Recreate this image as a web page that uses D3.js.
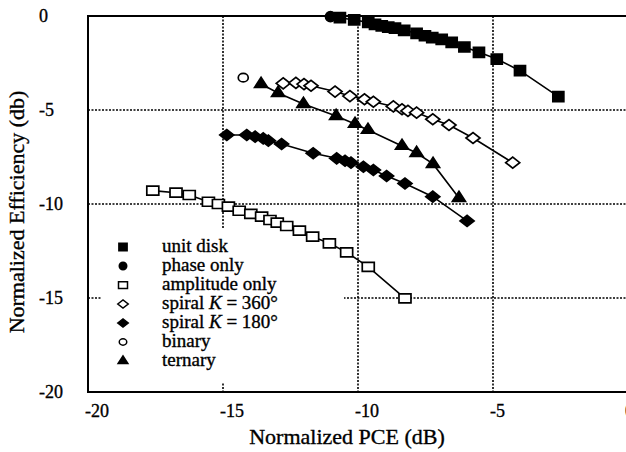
<!doctype html>
<html>
<head>
<meta charset="UTF-8">
<title>PCE vs efficiency</title>
<script src="https://d3js.org/d3.v7.min.js"></script>
<style>
  body { margin: 0; background: #fff; }
  text { font-family: "Liberation Serif", "Times New Roman", serif; fill: #000; stroke: #000; stroke-width: 0.35; }
</style>
</head>
<body>
<script>
// values (x = normalized PCE dB, y = normalized efficiency dB)
var unitDiskX = [-10.67, -10.14, -9.62, -9.37, -9.12, -8.88, -8.63, -8.29, -7.83, -7.52, -7.25, -6.90, -6.53, -6.06, -5.52, -4.86, -4.00, -2.58];
var unitDiskY = [-0.09, -0.21, -0.34, -0.45, -0.52, -0.59, -0.65, -0.76, -0.92, -1.05, -1.15, -1.24, -1.40, -1.65, -1.93, -2.29, -2.91, -4.29];

var phaseX = [-11.02];
var phaseY = [-0.03];

var amplitudeX = [-17.60, -16.74, -16.25, -15.54, -15.17, -14.80, -14.40, -13.97, -13.57, -13.26, -12.99, -12.64, -12.17, -11.68, -11.06, -10.42, -9.62, -8.26];
var amplitudeY = [-9.29, -9.40, -9.52, -9.88, -10.00, -10.14, -10.36, -10.53, -10.67, -10.85, -10.99, -11.17, -11.42, -11.74, -12.09, -12.57, -13.34, -15.02];

var spiral360X = [-12.77, -12.30, -12.00, -11.74, -10.85, -10.30, -9.76, -9.43, -8.69, -8.37, -8.15, -7.83, -7.23, -6.63, -5.74, -4.27];
var spiral360Y = [-3.58, -3.56, -3.62, -3.71, -4.02, -4.26, -4.43, -4.56, -4.81, -4.96, -5.05, -5.14, -5.49, -5.80, -6.49, -7.80];

var spiral180X = [-14.86, -14.12, -13.81, -13.51, -13.32, -12.83, -11.66, -10.79, -10.48, -10.26, -9.80, -9.43, -8.94, -8.26, -7.23, -5.96];
var spiral180Y = [-6.33, -6.33, -6.42, -6.51, -6.63, -6.81, -7.30, -7.57, -7.70, -7.80, -8.02, -8.19, -8.51, -8.91, -9.61, -10.90];

var binaryX = [-14.25];
var binaryY = [-3.28];

var ternaryX = [-13.59, -12.96, -12.02, -10.81, -10.11, -9.63, -8.37, -7.83, -7.22, -6.26];
var ternaryY = [-3.62, -4.10, -4.68, -5.32, -5.74, -6.06, -6.91, -7.29, -7.87, -9.68];

var xTicks = [-20, -15, -10, -5, 0];
var yTicks = [0, -5, -10, -15, -20];

var series = [
  {name: "unit disk",      x: unitDiskX,  y: unitDiskY,  shape: "square",   fill: true},
  {name: "phase only",     x: phaseX,     y: phaseY,     shape: "circle",   fill: true},
  {name: "amplitude only", x: amplitudeX, y: amplitudeY, shape: "rect",     fill: false},
  {name: "spiral360",      x: spiral360X, y: spiral360Y, shape: "diamond",  fill: false},
  {name: "spiral180",      x: spiral180X, y: spiral180Y, shape: "diamond",  fill: true},
  {name: "binary",         x: binaryX,    y: binaryY,    shape: "ellipse",  fill: false},
  {name: "ternary",        x: ternaryX,   y: ternaryY,   shape: "triangle", fill: true}
];

var W = 626, H = 452;
var pL = 88, pT = 16, pR = 628, pB = 392;

var x = d3.scaleLinear().domain([-20, 0]).range([pL, pR]);
var y = d3.scaleLinear().domain([-20, 0]).range([pB, pT]);

var svg = d3.select("body").append("svg")
  .attr("width", W).attr("height", H);

// marker outlines, k scales them down for the legend
function markerPath(shape, k) {
  k = k || 1;
  var w, h;
  if (shape == "square") { w = 11 * k; h = 10 * k;
    return "M" + (-w/2) + "," + (-h/2) + "h" + w + "v" + h + "h" + (-w) + "Z"; }
  if (shape == "rect") { w = 12 * k; h = 9 * k;
    return "M" + (-w/2) + "," + (-h/2) + "h" + w + "v" + h + "h" + (-w) + "Z"; }
  if (shape == "diamond") { w = 14 * k; h = 11 * k;
    return "M" + (-w/2) + ",0L0," + (-h/2) + "L" + (w/2) + ",0L0," + (h/2) + "Z"; }
  if (shape == "triangle") { w = 13 * k; h = 10 * k;
    return "M" + (-w/2) + "," + (h/3) + "L0," + (-2*h/3) + "L" + (w/2) + "," + (h/3) + "Z"; }
  if (shape == "circle") { w = 10 * k; h = 10 * k; }
  if (shape == "ellipse") { w = 10 * k; h = 8.5 * k; }
  return "M" + (-w/2) + ",0A" + (w/2) + "," + (h/2) + " 0 1,1 " + (w/2) + ",0A" + (w/2) + "," + (h/2) + " 0 1,1 " + (-w/2) + ",0Z";
}

// dotted grid
var grid = svg.append("g")
  .attr("stroke", "#000").attr("stroke-width", 1.6).attr("stroke-dasharray", "2,1.5");
[-15, -10, -5].forEach(function(v) {
  grid.append("line").attr("x1", x(v)).attr("x2", x(v)).attr("y1", pT).attr("y2", pB);
  grid.append("line").attr("x1", pL).attr("x2", pR).attr("y1", y(v)).attr("y2", y(v));
});

// legend panel hides part of the grid
svg.append("rect")
  .attr("x", 102).attr("y", 229).attr("width", 242).attr("height", 154)
  .attr("fill", "#fff");

// frame
svg.append("path")
  .attr("d", "M" + pL + "," + pT + "V" + pB + "H" + pR + "V" + pT + "Z")
  .attr("fill", "none").attr("stroke", "#000").attr("stroke-width", 2);

// series
var line = d3.line().x(function(d) { return x(d[0]); }).y(function(d) { return y(d[1]); });

series.forEach(function(s) {
  var pts = s.x.map(function(v, i) { return [v, s.y[i]]; });
  if (pts.length > 1) {
    svg.append("path").attr("d", line(pts))
      .attr("fill", "none").attr("stroke", "#000").attr("stroke-width", 1.6);
  }
  svg.append("g").selectAll("path").data(pts).enter().append("path")
    .attr("transform", function(d) { return "translate(" + x(d[0]) + "," + y(d[1]) + ")"; })
    .attr("d", markerPath(s.shape))
    .attr("fill", s.fill ? "#000" : "#fff")
    .attr("stroke", "#000").attr("stroke-width", 1.7);
});

// tick labels
svg.append("g").selectAll("text").data(xTicks).enter().append("text")
  .attr("x", function(d) { return x(d) - 3; })
  .attr("y", 417)
  .attr("font-size", 18)
  .text(function(d) { return String(d); });

svg.append("g").selectAll("text").data(yTicks).enter().append("text")
  .attr("x", 39)
  .attr("y", function(d) { return y(d) + 6; })
  .attr("font-size", 18)
  .text(function(d) { return String(d); });

// axis titles
svg.append("text")
  .attr("x", 347).attr("y", 444)
  .attr("text-anchor", "middle").attr("font-size", 22)
  .text("Normalized PCE (dB)");

svg.append("text")
  .attr("transform", "translate(24,212) rotate(-90)")
  .attr("text-anchor", "middle").attr("font-size", 22)
  .text("Normalized Efficiency (db)");

// legend
var legend = svg.append("g");
series.forEach(function(s, i) {
  var cy = 247 + 19 * i;
  legend.append("path")
    .attr("transform", "translate(123," + cy + ")")
    .attr("d", markerPath(s.shape, 0.75))
    .attr("fill", s.fill ? "#000" : "#fff")
    .attr("stroke", "#000").attr("stroke-width", 1.5);
  var t = legend.append("text").attr("x", 162).attr("y", cy + 5).attr("font-size", 19);
  if (s.name == "spiral360" || s.name == "spiral180") {
    t.append("tspan").text("spiral ");
    t.append("tspan").attr("font-style", "italic").text("K");
    t.append("tspan").text(s.name == "spiral360" ? " = 360°" : " = 180°");
  } else {
    t.text(s.name);
  }
});
</script>
</body>
</html>
